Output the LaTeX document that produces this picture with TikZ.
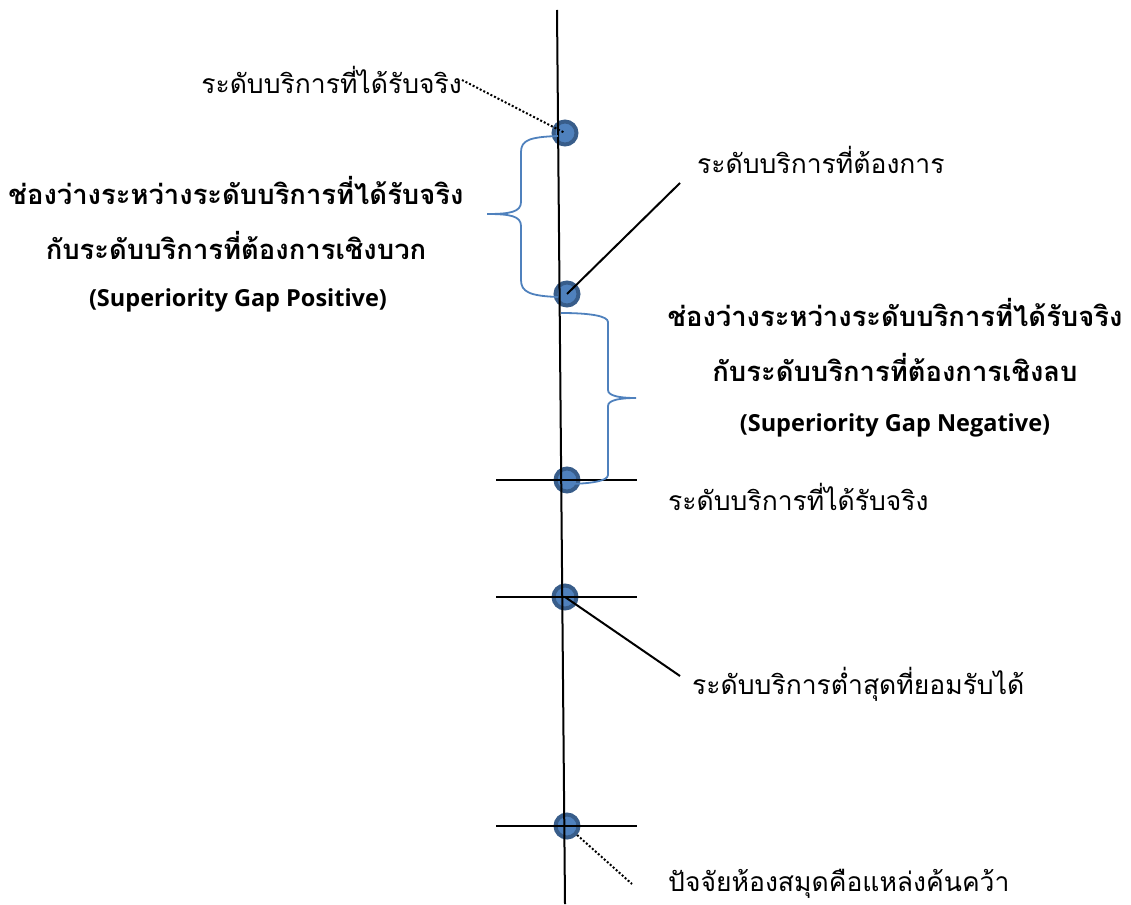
\documentclass[tikz,border=0pt]{standalone}
\usepackage{fontspec}
\newfontfamily\thai[Script=Thai]{Loma}
\newfontfamily\lat{Open Sans}
\usetikzlibrary{calc}
\definecolor{dotfill}{HTML}{4F81BD}
\definecolor{dotring}{HTML}{385D8A}
\definecolor{bracec}{HTML}{4F81BD}
\tikzset{
  x=1pt,y=-1pt,
  lbl/.style={inner sep=0pt,font=\thai\fontsize{26.5}{30}\selectfont},
  blbl/.style={inner sep=0pt,font=\thai\bfseries\fontsize{27.4}{31}\selectfont},
  elbl/.style={inner sep=0pt,font=\lat\bfseries\fontsize{23.5}{27}\selectfont},
  pt/.style={circle,fill=dotfill,draw=dotring,line width=4pt,minimum size=23pt,inner sep=0pt},
  axis/.style={line width=2pt,black},
  lead/.style={line width=2pt,black},
  dotlead/.style={line width=2pt,black,dash pattern=on 2pt off 2pt},
  brace/.style={line width=1.8pt,bracec}
}
\begin{document}
\begin{tikzpicture}
\useasboundingbox (0,0) rectangle (1131,904);
% axis
\coordinate (top) at (557,10);
\coordinate (bot) at (565,904);
% tick lines
\coordinate (t1a) at (496,480); \coordinate (t1b) at (637,480);
\coordinate (t2a) at (496,597); \coordinate (t2b) at (637,597);
\coordinate (t3a) at (496,826); \coordinate (t3b) at (637,826);
% points
\node[pt] (p1) at (565,133) {};
\node[pt] (p2) at (567,294) {};
\node[pt] (p3) at (567,480) {};
\node[pt] (p4) at (565,597) {};
\node[pt] (p5) at (567,826) {};
% axis and ticks over points
\draw[axis] (top) -- (bot);
\draw[axis] (t1a) -- (t1b);
\draw[axis] (t2a) -- (t2b);
\draw[axis] (t3a) -- (t3b);
% braces
\draw[brace] (558,136) .. controls (530,137) and (521,140) .. (521,152)
  -- (521,202) .. controls (521,212) and (510,214) .. (487,214)
  .. controls (510,214) and (521,216) .. (521,226)
  -- (521,280) .. controls (521,292) and (530,296) .. (558,297);
\draw[brace] (561,313) .. controls (590,313) and (608,316) .. (608,322)
  -- (608,390) .. controls (608,396) and (620,398) .. (636,398)
  .. controls (620,398) and (608,400) .. (608,406)
  -- (608,475) .. controls (608,481) and (590,484) .. (565,484);
% labels
\node[lbl,anchor=east] (l1) at (462,80) {ระดับบริการที่ได้รับจริง};
\node[blbl] (g1a) at (236,190) {ช่องว่างระหว่างระดับบริการที่ได้รับจริง};
\node[blbl] (g1b) at (236,245) {กับระดับบริการที่ต้องการเชิงบวก};
\node[elbl] (g1c) at (238,300) {(Superiority Gap Positive)};
\node[lbl,anchor=west] (l2) at (697,160) {ระดับบริการที่ต้องการ};
\node[blbl] (g2a) at (895,312) {ช่องว่างระหว่างระดับบริการที่ได้รับจริง};
\node[blbl] (g2b) at (895,367) {กับระดับบริการที่ต้องการเชิงลบ};
\node[elbl] (g2c) at (895,425) {(Superiority Gap Negative)};
\node[lbl,anchor=west] (l3) at (668,497) {ระดับบริการที่ได้รับจริง};
\node[lbl,anchor=west] (l4) at (692,684) {ระดับบริการต่ำสุดที่ยอมรับได้};
\node[lbl,anchor=west] (l5) at (668,884) {ปัจจัยห้องสมุดคือแหล่งค้นคว้า};
% leaders
\coordinate (e1) at (680,183);
\coordinate (e4) at (680,676);
\coordinate (e5) at (632,884);
\draw[dotlead] (l1.east) -- (p1.center);
\draw[lead] (p2.center) -- (e1);
\draw[lead] (p4.center) -- (e4);
\draw[dotlead] (p5) -- (e5);
\end{tikzpicture}
\end{document}
